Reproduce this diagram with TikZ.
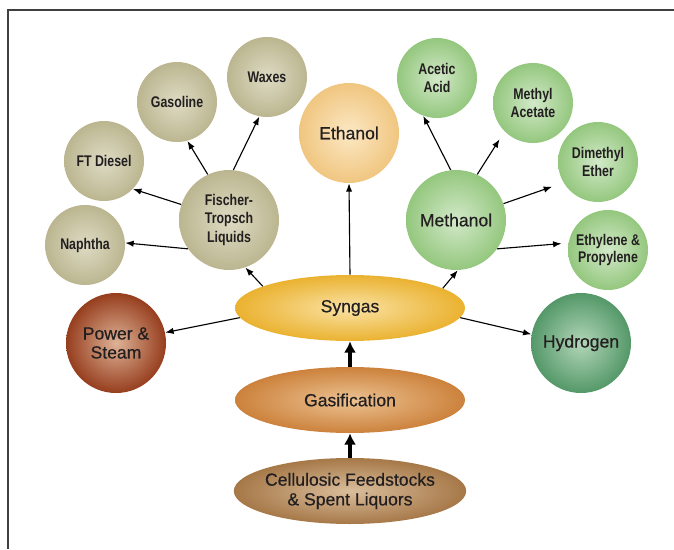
\documentclass[tikz,border=0pt]{standalone}
\usepackage{fontspec}
\setmainfont{Liberation Sans}
\newfontfamily\condfont[FakeStretch=0.8]{Liberation Sans}
\newfontfamily\medfont[FakeBold=0.6]{Liberation Sans}
\usetikzlibrary{shapes.geometric,arrows.meta}
\definecolor{tanout}{RGB}{187,182,144}
\definecolor{tanin}{RGB}{222,219,196}
\definecolor{grnout}{RGB}{148,199,126}
\definecolor{grnin}{RGB}{210,233,200}
\definecolor{ethout}{RGB}{240,198,128}
\definecolor{ethin}{RGB}{252,232,196}
\definecolor{hydout}{RGB}{84,152,104}
\definecolor{hydin}{RGB}{178,214,184}
\definecolor{powout}{RGB}{150,62,30}
\definecolor{powin}{RGB}{222,178,150}
\definecolor{synout}{RGB}{234,178,48}
\definecolor{synin}{RGB}{250,226,164}
\definecolor{gasout}{RGB}{204,130,60}
\definecolor{gasin}{RGB}{236,194,146}
\definecolor{celout}{RGB}{166,120,72}
\definecolor{celin}{RGB}{218,190,156}
\definecolor{ink}{RGB}{35,31,32}
\begin{document}
\begin{tikzpicture}[
  smallball/.style={circle, minimum size=2cm, inner sep=0pt, align=center, text=ink,
    font=\condfont\bfseries\fontsize{11}{12.5}\selectfont},
  bigball/.style={circle, minimum size=2.5cm, inner sep=0pt, align=center, text=ink,
    font=\medfont\fontsize{12.5}{13.5}\selectfont},
  stage/.style={ellipse, minimum width=5.75cm, minimum height=1.65cm, inner sep=0pt,
    align=center, text=ink, font=\medfont\fontsize{12.5}{14}\selectfont},
  ft/.style={inner color=tanin, outer color=tanout},
  meoh/.style={inner color=grnin, outer color=grnout},
  link/.style={line width=0.8pt, -{Latex[length=6pt,width=4.5pt]}},
  feed/.style={line width=2.6pt, -{Latex[length=8pt,width=8.5pt]}}
]
\useasboundingbox (0,0) rectangle (16.85,13.725);
\draw[line width=1pt, black!75] (0.2,0) -- (0.2,13.475) -- (16.85,13.475);

% process chain
\node[stage, inner xsep=-2pt, inner color=celin, outer color=celout] (cellul) at (8.75,1.45) {Cellulosic Feedstocks\\\& Spent Liquors};
\node[stage, inner color=gasin, outer color=gasout] (gasif) at (8.75,3.725) {Gasification};
\node[stage, inner color=synin, outer color=synout] (syngas) at (8.75,6.025) {Syngas};

% products
\node[bigball, inner color=powin, outer color=powout] (power) at (2.9,5.15) {Power \&\\Steam};
\node[bigball, inner color=hydin, outer color=hydout] (hydrogen) at (14.525,5.15) {Hydrogen};
\node[bigball, inner color=ethin, outer color=ethout] (ethanol) at (8.725,10.4) {Ethanol};
\node[bigball, meoh] (methanol) at (11.4,8.225) {Methanol};
\node[bigball, ft, font=\condfont\bfseries\fontsize{11}{13}\selectfont] (ftl) at (5.725,8.225) {Fischer-\\Tropsch\\Liquids};

\node[smallball, ft] (naphtha) at (2.125,7.6) {Naphtha};
\node[smallball, ft] (ftdiesel) at (2.6,9.7) {FT Diesel};
\node[smallball, ft] (gasoline) at (4.425,11.175) {Gasoline};
\node[smallball, ft] (waxes) at (6.675,11.8) {Waxes};

\node[smallball, meoh] (acetic) at (10.925,11.775) {Acetic\\Acid};
\node[smallball, meoh] (methylac) at (13.325,11.15) {Methyl\\Acetate};
\node[smallball, meoh] (dme) at (14.95,9.675) {Dimethyl\\Ether};
\node[smallball, meoh] (olefins) at (15.2,7.475) {Ethylene \&\\Propylene};

\draw[feed] (cellul) -- (gasif);
\draw[feed] (gasif) -- (syngas);

\draw[link] (syngas.185) -- (power.12);
\draw[link] (syngas.-5) -- (hydrogen.170);
\draw[link] (syngas.north) -- (ethanol.south);
\draw[link] (syngas.166) -- (ftl.289);
\draw[link] (syngas.12) -- (methanol.272);

\draw[link] (ftl.215) -- (naphtha.3);
\draw[link] (ftl.162) -- (ftdiesel.316);
\draw[link] (ftl.115) -- (gasoline.285);
\draw[link] (ftl.85) -- (waxes.259);

\draw[link] (methanol.96) -- (acetic.250);
\draw[link, shorten >=0.23cm] (methanol.65) -- (methylac.225);
\draw[link, shorten >=0.3cm] (methanol.19) -- (dme.211);
\draw[link, shorten >=0.17cm] (methanol.325) -- (olefins.170);
\end{tikzpicture}
\end{document}
